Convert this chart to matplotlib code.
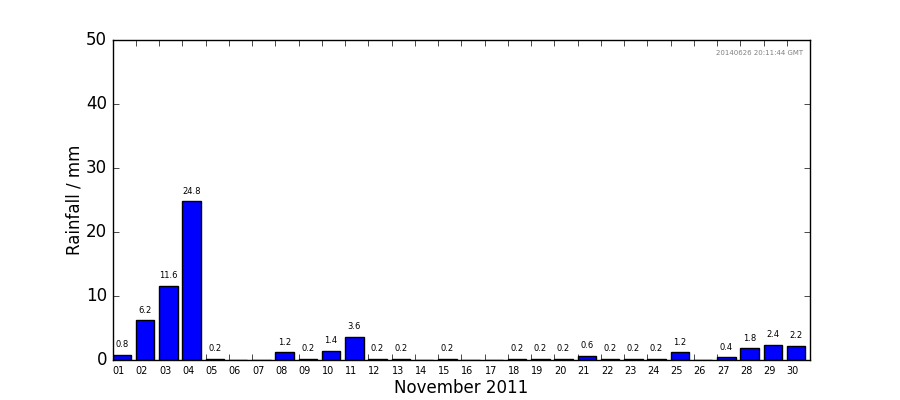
import numpy as np
import matplotlib
matplotlib.use('Agg')
import matplotlib.pyplot as plt

# daily rainfall for November 2011
days = ['%02d' % d for d in range(1, 31)]
rain = [0.8, 6.2, 11.6, 24.8, 0.2, 0.0, 0.0, 1.2, 0.2, 1.4,
        3.6, 0.2, 0.2, 0.0, 0.2, 0.0, 0.0, 0.2, 0.2, 0.2,
        0.6, 0.2, 0.2, 0.2, 1.2, 0.0, 0.4, 1.8, 2.4, 2.2]
month_label = 'November 2011'
stamp = '20140626 20:11:44 GMT'

plt.style.use('classic')
fig = plt.figure(figsize=(9, 4), dpi=100)
ax = fig.add_subplot(111)
fig.subplots_adjust(left=0.125, right=0.9, bottom=0.1, top=0.9)

x = np.arange(len(days))
ax.bar(x, rain, width=0.8, align='edge', color='b', edgecolor='k')

# value labels above bars
for xi, v in zip(x, rain):
    if v > 0:
        ax.text(xi + 0.4, v + 0.9, '%.1f' % v, ha='center', va='bottom', fontsize=6)

ax.set_xlim(0, 30)
ax.set_ylim(0, 50)
ax.set_xticks(x)
ax.set_xticklabels(days, ha='left', fontsize=7)
ax.set_ylabel('Rainfall / mm', labelpad=1.5)
ax.set_xlabel(month_label, labelpad=2.5)
ax.text(0.99, 0.96, stamp, transform=ax.transAxes, ha='right', va='center',
        fontsize=5, color='gray')

fig.savefig('out.png', dpi=100)
